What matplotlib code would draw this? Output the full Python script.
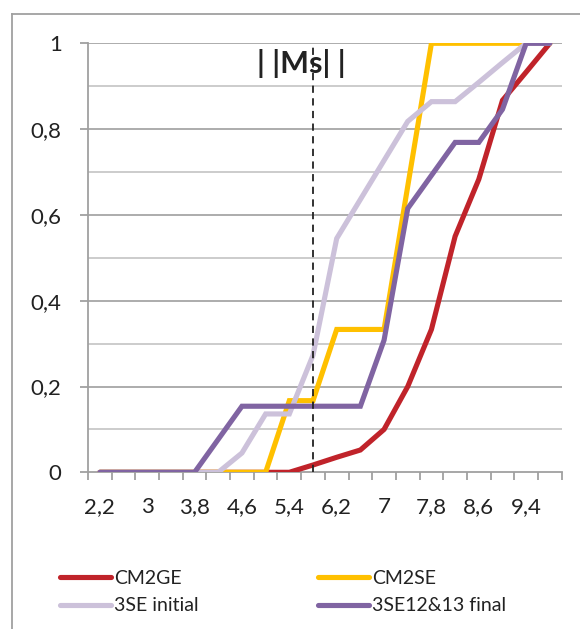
import matplotlib
matplotlib.use("Agg")
import matplotlib.pyplot as plt
from matplotlib.lines import Line2D
import numpy as np

# categories (Excel-style category axis)
cats = [2.2, 2.6, 3.0, 3.4, 3.8, 4.2, 4.6, 5.0, 5.4, 5.8,
        6.2, 6.6, 7.0, 7.4, 7.8, 8.2, 8.6, 9.0, 9.4, 9.8]
cat_labels = ["2,2", "3", "3,8", "4,6", "5,4", "6,2", "7", "7,8", "8,6", "9,4"]

cm2ge = [0, 0, 0, 0, 0, 0, 0, 0, 0, 0.017,
         0.035, 0.052, 0.10, 0.20, 0.333, 0.55, 0.683, 0.867, 0.933, 1.0]
cm2se = [0, 0, 0, 0, 0, 0, 0, 0, 0.167, 0.167,
         0.333, 0.333, 0.333, 0.667, 1, 1, 1, 1, 1, 1]
se3_init = [0, 0, 0, 0, 0, 0, 0.045, 0.136, 0.136, 0.273,
            0.545, 0.636, 0.727, 0.818, 0.864, 0.864, 0.909, 0.955, 1, 1]
se3_final = [0, 0, 0, 0, 0, 0.077, 0.154, 0.154, 0.154, 0.154,
             0.154, 0.154, 0.308, 0.615, 0.692, 0.769, 0.769, 0.846, 1, 1]
ms_value = 5.8

names = ["CM2GE", "CM2SE", "3SE initial", "3SE12&13 final"]
colors = ["#C0232A", "#FFC000", "#CCC1DA", "#8064A2"]
series = [cm2ge, cm2se, se3_init, se3_final]

plt.rcParams["font.family"] = ["Lato", "DejaVu Sans"]

fig = plt.figure(figsize=(5.8, 6.29), dpi=100)
W, H = 580, 629
ax = fig.add_axes([88 / W, 1 - 472.3 / H, (561.7 - 88) / W, (472.3 - 43.3) / H])

xpos = np.arange(len(cats))
for vals, c, n in zip(series, colors, names):
    ax.plot(xpos, vals, color=c, lw=3.7, solid_capstyle="round",
            solid_joinstyle="miter", label=n, zorder=3)

ms_idx = cats.index(ms_value)
ax.plot([ms_idx, ms_idx], [0, 0.992], color="#222222", lw=1.3,
        linestyle=(0, (4, 3)), zorder=4)
ax.text(ms_idx - 0.48, 0.953, "| |Ms| |", ha="center", va="center",
        fontsize=22, fontweight="bold", color="#222222", zorder=5)

ax.set_xlim(-0.5, len(cats) - 0.5)
ax.set_ylim(0, 1)

# grid lines
for v in np.arange(0.1, 1.01, 0.1):
    major = round(v * 10) % 2 == 0
    ax.axhline(v, color="#a6a6a6" if major else "#c8c8c8",
               lw=1.3, zorder=1)

for s in ["top", "right"]:
    ax.spines[s].set_visible(False)
for s in ["left", "bottom"]:
    ax.spines[s].set_color("#a0a0a0")
    ax.spines[s].set_linewidth(1.3)

ax.set_yticks(np.arange(0, 1.01, 0.2))
ax.set_yticklabels(["0", "0,2", "0,4", "0,6", "0,8", "1"])
ax.tick_params(axis="y", length=6, width=1.3, color="#a0a0a0",
               labelsize=16, labelcolor="#222222", pad=13)

ax.set_xticks(np.arange(-0.5, len(cats), 1.0))
ax.set_xticklabels([])
ax.set_xticks(xpos[::2], minor=True)
ax.set_xticklabels(cat_labels, minor=True)
ax.tick_params(axis="x", which="major", direction="out", length=6,
               width=1.3, color="#a0a0a0")
ax.tick_params(axis="x", which="minor", length=0, labelsize=16,
               labelcolor="#222222", pad=18)

# legend in two columns, row-wise order
handles = [Line2D([], [], color=c, lw=3.7, solid_capstyle="round") for c in colors]
leg_kw = dict(frameon=False, fontsize=14, handlelength=2.6, handletextpad=0.2,
              labelspacing=0.55, borderpad=0, borderaxespad=0, loc="center left")
leg1 = fig.legend([handles[0], handles[2]], [names[0], names[2]],
                  bbox_to_anchor=(60 / W, 1 - 592 / H), **leg_kw)
leg2 = fig.legend([handles[1], handles[3]], [names[1], names[3]],
                  bbox_to_anchor=(318 / W, 1 - 592 / H), **leg_kw)
for leg in (leg1, leg2):
    for t in leg.get_texts():
        t.set_color("#222222")

# outer chart border
fig.add_artist(Line2D([12 / W, 12 / W], [0, 1 - 14 / H], color="#a0a0a0",
                      lw=1.3, transform=fig.transFigure))
fig.add_artist(Line2D([12 / W, 1], [1 - 14 / H, 1 - 14 / H], color="#a0a0a0",
                      lw=1.3, transform=fig.transFigure))

fig.savefig("out.png", dpi=100)
